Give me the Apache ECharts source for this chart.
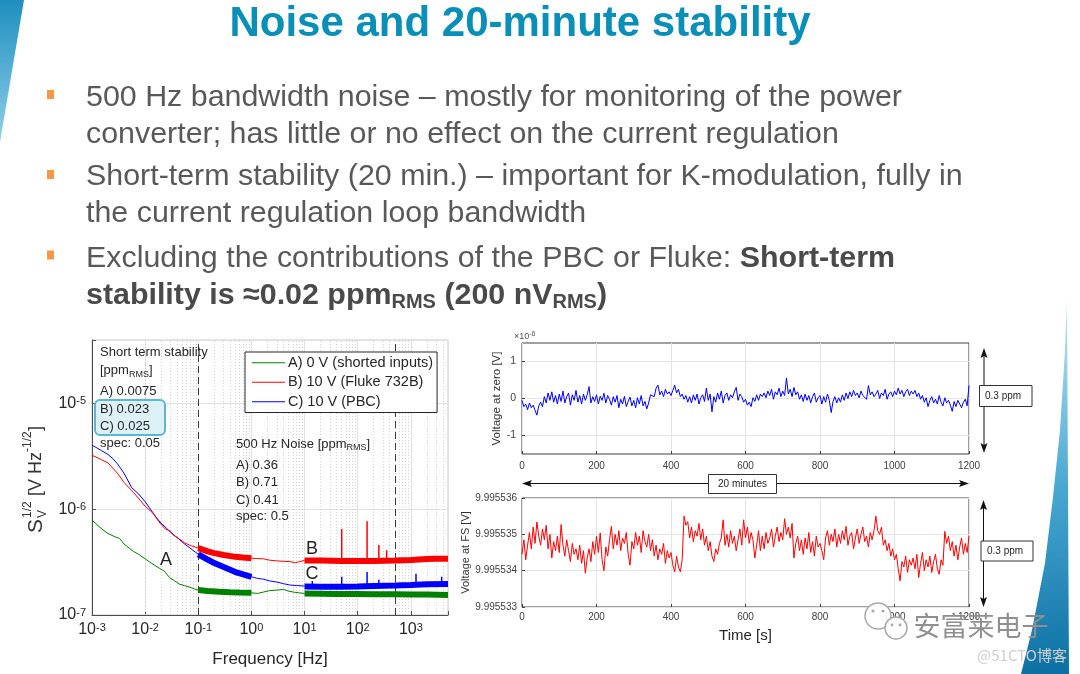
<!DOCTYPE html>
<html><head><meta charset="utf-8">
<style>html,body{margin:0;padding:0;background:#fff}#c{width:1080px;height:674px}</style>
<script src="https://cdn.jsdelivr.net/npm/echarts@6.0.0/dist/echarts.min.js"></script>
</head><body><div id="c"></div><script>
// ---------- Left chart: noise spectral density (log-log) ----------
const fA = [0.001,0.0013,0.0016,0.002,0.0027,0.0033,0.004,0.005,0.006,0.0075,0.01,0.013,0.016,0.019,0.023,0.029,0.036,0.045,0.055,0.07,0.085,0.1,0.15,0.25,0.4,0.6,1,1.3,1.7,2.2,3,4,5,6.5,8,10];
const vA = [7.9e-7,7.0e-7,6.4e-7,5.9e-7,5.5e-7,5.3e-7,4.7e-7,4.3e-7,4.0e-7,3.75e-7,3.4e-7,3.1e-7,2.9e-7,2.75e-7,2.6e-7,2.25e-7,2.1e-7,1.95e-7,1.9e-7,1.83e-7,1.76e-7,1.72e-7,1.69e-7,1.66e-7,1.64e-7,1.63e-7,1.62e-7,1.6e-7,1.65e-7,1.7e-7,1.72e-7,1.75e-7,1.68e-7,1.64e-7,1.62e-7,1.6e-7];
const fAb1 = [0.1,0.15,0.25,0.4,0.6,1];
const vAb1 = [1.72e-7,1.69e-7,1.66e-7,1.64e-7,1.63e-7,1.62e-7];
const fAb2 = [10,20,40,100,200,500,1000,2000,5000];
const vAb2 = [1.6e-7,1.59e-7,1.58e-7,1.58e-7,1.57e-7,1.57e-7,1.56e-7,1.56e-7,1.55e-7];

const fB = [0.001,0.0015,0.002,0.003,0.004,0.006,0.01,0.014,0.019,0.024,0.03,0.034,0.045,0.056,0.075,0.1,0.15,0.3,0.5,1,1.3,1.7,2.2,3,4,5.3,6.7,8,10];
const vB = [3.25e-6,2.95e-6,2.75e-6,2.2e-6,1.8e-6,1.45e-6,1.07e-6,9.2e-7,7.4e-7,6.5e-7,6.2e-7,5.7e-7,5.2e-7,4.8e-7,4.5e-7,4.3e-7,4.0e-7,3.7e-7,3.55e-7,3.45e-7,3.42e-7,3.4e-7,3.3e-7,3.25e-7,3.22e-7,3.2e-7,3.12e-7,3.2e-7,3.28e-7];
const fBb1 = [0.1,0.15,0.2,0.3,0.5,0.7,1];
const vBb1 = [4.3e-7,4.0e-7,3.85e-7,3.7e-7,3.55e-7,3.5e-7,3.45e-7];
const fBb2 = [10,20,50,100,200,500,1000,2000,3000,5000];
const vBb2 = [3.28e-7,3.27e-7,3.25e-7,3.24e-7,3.24e-7,3.27e-7,3.32e-7,3.38e-7,3.4e-7,3.4e-7];
const fBs = [50,150,250,350];
const vBsTop = [6.5e-7,7.7e-7,4.6e-7,4.1e-7];
const vBsBase = [3.25e-7,3.24e-7,3.24e-7,3.24e-7];

const fC = [0.001,0.0015,0.002,0.0025,0.003,0.004,0.0056,0.0075,0.01,0.013,0.0164,0.02,0.0254,0.032,0.042,0.055,0.07,0.1,0.15,0.2,0.3,0.5,0.7,1,1.3,1.7,2.2,3,4,5.3,7,10];
const vC = [4.05e-6,3.6e-6,3.3e-6,3.0e-6,2.7e-6,2.2e-6,1.6e-6,1.4e-6,1.18e-6,9.8e-7,8.3e-7,7.4e-7,6.6e-7,5.9e-7,5.3e-7,4.7e-7,4.3e-7,3.75e-7,3.35e-7,3.1e-7,2.85e-7,2.55e-7,2.42e-7,2.3e-7,2.22e-7,2.18e-7,2.1e-7,2.05e-7,1.98e-7,1.92e-7,1.9e-7,1.88e-7];
const fCb1 = [0.1,0.15,0.2,0.3,0.5,0.7,1];
const vCb1 = [3.75e-7,3.35e-7,3.1e-7,2.85e-7,2.55e-7,2.42e-7,2.3e-7];
const fCb2 = [10,20,50,100,200,500,1000,2000,5000];
const vCb2 = [1.86e-7,1.85e-7,1.85e-7,1.86e-7,1.88e-7,1.9e-7,1.92e-7,1.95e-7,1.97e-7];
const fCs = [14,50,150,250,1250,3800];
const vCsTop = [2.1e-7,2.3e-7,2.55e-7,2.15e-7,2.45e-7,2.3e-7];
const vCsBase = [1.85e-7,1.85e-7,1.86e-7,1.87e-7,1.92e-7,1.96e-7];

const seriesNames = ['A) 0 V (shorted inputs)','B) 10 V (Fluke 732B)','C) 10 V (PBC)'];
const markerFreqs = [0.1, 500];

// ---------- Right charts: 20-minute time series ----------
const timeStep = 5; // s between samples
const zeroTicks = [-1, 0, 1];
const zeroUV = [
-0.05,-0.22,-0.15,-0.30,-0.12,-0.25,-0.18,-0.32,-0.45,-0.20,
-0.10,-0.22,0.05,-0.12,0.15,-0.05,0.18,-0.10,0.08,-0.15,
0.12,-0.08,0.20,-0.12,0.05,0.15,-0.18,0.10,-0.05,0.22,
-0.10,0.08,-0.15,0.12,-0.05,0.10,0.32,-0.12,0.05,-0.08,
0.10,-0.15,0.06,-0.05,0.14,-0.12,0.08,-0.02,-0.18,0.05,
-0.10,0.08,-0.25,-0.02,-0.15,0.06,-0.22,-0.08,0.04,-0.20,
-0.05,-0.25,0.02,-0.15,0.08,-0.20,-0.08,-0.28,-0.12,0.10,
0.15,0.05,0.28,0.36,0.10,0.20,0.05,0.25,0.12,0.18,
0.08,0.22,0.36,0.15,0.25,0.05,0.12,-0.02,0.08,-0.10,
0.05,-0.12,0.10,-0.05,0.12,-0.15,0.02,0.10,-0.08,0.28,
-0.05,0.12,-0.36,0.05,-0.10,0.15,-0.02,0.20,-0.12,0.08,
0.15,-0.05,0.10,0.02,0.18,0.30,-0.05,0.12,0.05,-0.10,
-0.02,-0.18,-0.10,-0.22,0.02,-0.08,0.10,-0.05,0.12,0.05,
0.15,0.02,0.20,0.08,0.25,-0.02,0.18,0.10,0.28,0.05,
0.20,0.08,0.55,0.12,0.25,0.05,0.30,0.10,0.18,-0.02,
0.10,-0.08,0.12,-0.05,0.08,-0.12,0.05,0.15,-0.10,0.02,
0.08,-0.15,0.05,-0.10,0.12,-0.05,-0.38,-0.08,0.05,-0.12,
0.02,-0.10,0.10,-0.05,0.15,0.00,0.18,0.05,0.22,0.08,
0.15,0.02,0.20,0.08,0.12,-0.02,0.35,0.10,0.18,0.05,
0.12,0.22,0.00,0.15,0.08,0.25,-0.02,0.12,0.18,0.05,
0.20,0.10,0.28,0.12,0.22,0.05,0.18,0.25,0.08,0.20,
0.12,0.22,0.05,0.15,-0.02,0.08,-0.10,0.02,-0.22,-0.05,
0.05,-0.12,-0.02,-0.15,0.08,-0.10,-0.20,0.02,-0.12,-0.05,
-0.18,-0.35,-0.08,-0.22,-0.05,-0.15,-0.25,-0.10,-0.02,-0.20,
0.35];
const fsTicks = [9.995533, 9.995534, 9.995535, 9.995536];
const fsV = [
9.99553445,9.99553485,9.9955343,9.9955347,9.99553505,9.9955346,9.9955352,9.99553475,9.99553534,9.99553495,
9.9955347,9.99553515,9.99553485,9.99553525,9.9955346,9.995535,9.99553435,9.9955348,9.99553455,9.99553495,
9.9955345,9.99553527,9.9955347,9.9955344,9.99553485,9.99553455,9.99553425,9.99553475,9.99553445,9.9955346,
9.9955343,9.9955347,9.9955342,9.99553455,9.99553393,9.99553435,9.9955346,9.99553425,9.9955348,9.99553445,
9.99553495,9.9955345,9.99553504,9.9955343,9.995534,9.99553465,9.9955344,9.99553485,9.99553522,9.9955346,
9.995535,9.9955347,9.9955351,9.99553455,9.9955349,9.99553475,9.99553505,9.99553445,9.99553415,9.9955348,
9.9955346,9.99553505,9.9955347,9.99553495,9.9955345,9.9955351,9.9955348,9.99553465,9.995535,9.99553455,
9.99553485,9.9955344,9.9955347,9.9955343,9.9955346,9.99553445,9.99553475,9.9955342,9.99553455,9.99553435,
9.9955345,9.99553415,9.99553397,9.9955344,9.9955341,9.99553397,9.9955343,9.9955355,9.99553525,9.99553535,
9.9955349,9.9955352,9.9955348,9.9955351,9.99553495,9.9955353,9.99553485,9.99553515,9.9955347,9.99553495,
9.99553455,9.9955348,9.9955344,9.99553425,9.9955346,9.99553445,9.99553475,9.9955349,9.9955354,9.9955347,
9.995535,9.99553465,9.9955351,9.99553475,9.99553495,9.99553455,9.99553485,9.99553515,9.9955347,9.9955354,
9.9955349,9.9955352,9.99553475,9.99553505,9.99553485,9.99553435,9.9955347,9.9955351,9.99553455,9.99553495,
9.9955346,9.99553505,9.99553475,9.9955349,9.99553515,9.99553465,9.99553495,9.9955352,9.9955348,9.99553505,
9.99553485,9.99553543,9.995535,9.9955352,9.9955349,9.9955353,9.99553435,9.99553475,9.99553495,9.99553455,
9.99553485,9.99553445,9.9955349,9.9955346,9.99553505,9.9955345,9.9955348,9.9955344,9.99553495,9.99553465,
9.99553475,9.99553455,9.9955343,9.9955349,9.9955351,9.9955347,9.995535,9.9955348,9.99553515,9.99553465,
9.995535,9.99553475,9.9955351,9.99553485,9.99553522,9.9955347,9.99553495,9.99553505,9.9955346,9.9955349,
9.99553515,9.99553475,9.995535,9.9955352,9.9955348,9.99553495,9.99553465,9.99553505,9.99553485,9.9955351,
9.9955355,9.9955351,9.995535,9.9955352,9.9955347,9.99553485,9.99553455,9.99553475,9.9955344,9.9955346,
9.9955343,9.99553445,9.99553405,9.99553372,9.99553425,9.9955341,9.9955344,9.99553395,9.9955343,9.99553415,
9.99553435,9.99553405,9.99553445,9.99553381,9.9955342,9.9955345,9.995534,9.9955343,9.9955341,9.9955344,
9.99553395,9.99553425,9.99553445,9.99553405,9.9955339,9.9955343,9.99553415,9.99553508,9.99553475,9.99553495,
9.99553455,9.9955348,9.9955344,9.9955347,9.9955343,9.99553465,9.9955349,9.99553445,9.99553475,9.9955345,
9.99553495];

// ---------- helpers ----------
const FF = '"Liberation Sans", Arial, Helvetica, sans-serif';
const pts = (f, v) => f.map((x, i) => [x, v[i]]);
const spikes = (f, b, t) => { const out = []; f.forEach((x, i) => { out.push([x, b[i]], [x, t[i]], [x, '-']); }); return out; };
const timeA = zeroUV.map((_, i) => i * timeStep);
const timeB = fsV.map((_, i) => i * timeStep);

function decade(v) {
  const e = Math.log10(v), r = Math.round(e);
  if (Math.abs(e - r) > 1e-6) return '';
  return '{b|10}{s|' + r + '}';
}
const LR = {
  b: {fontSize: 16, fontFamily: FF, color: '#262626', lineHeight: 16, verticalAlign: 'bottom'},
  s: {fontSize: 11, fontFamily: FF, color: '#262626', lineHeight: 11, verticalAlign: 'top', padding: [0, 0, 10, 0]}
};

function T(x, y, text, s, z) {
  return {type: 'text', x: x, y: y, z: z || 100, silent: true,
    style: Object.assign({text: text, fill: '#262626', fontSize: 13, fontFamily: FF, align: 'left', verticalAlign: 'middle'}, s || {})};
}
const subRich = {s: {fontSize: 9, lineHeight: 9, verticalAlign: 'bottom', fill: '#262626', fontFamily: FF}};

function vArrow(x, y1, y2) {
  return [
    {type: 'line', z: 100, silent: true, shape: {x1: x, y1: y1 + 6, x2: x, y2: y2 - 6}, style: {stroke: '#111', lineWidth: 1}},
    {type: 'polygon', z: 100, silent: true, shape: {points: [[x, y1], [x - 3.5, y1 + 10], [x, y1 + 8], [x + 3.5, y1 + 10]]}, style: {fill: '#111'}},
    {type: 'polygon', z: 100, silent: true, shape: {points: [[x, y2], [x - 3.5, y2 - 10], [x, y2 - 8], [x + 3.5, y2 - 10]]}, style: {fill: '#111'}}
  ];
}
function hArrow(y, x1, x2) {
  return [
    {type: 'line', z: 100, silent: true, shape: {x1: x1 + 6, y1: y, x2: x2 - 6, y2: y}, style: {stroke: '#111', lineWidth: 1}},
    {type: 'polygon', z: 100, silent: true, shape: {points: [[x1, y], [x1 + 10, y - 3.5], [x1 + 8, y], [x1 + 10, y + 3.5]]}, style: {fill: '#111'}},
    {type: 'polygon', z: 100, silent: true, shape: {points: [[x2, y], [x2 - 10, y - 3.5], [x2 - 8, y], [x2 - 10, y + 3.5]]}, style: {fill: '#111'}}
  ];
}
function box(x, y, w, h) {
  return {type: 'rect', z: 101, silent: true, shape: {x: x, y: y, width: w, height: h}, style: {fill: '#fff', stroke: '#333', lineWidth: 1}};
}

// minor grid values for the log plot (grid decoration only)
const minorX = [], minorY = [];
for (let e = -3; e <= 3; e++) for (let k = 2; k <= 9; k++) { const v = k * Math.pow(10, e); if (v < 5000) minorX.push(v); }
for (let e = -7; e <= -5; e++) for (let k = 2; k <= 9; k++) { const v = k * Math.pow(10, e); if (v < 4e-5) minorY.push(v); }

const chart = echarts.init(document.getElementById('c'), null, {renderer: 'canvas'});

const bulletStyle = {fontSize: 30.4, fontFamily: FF, fill: '#595959'};
const boldRich = {
  b: {fontSize: 30.4, fontFamily: FF, fontWeight: 'bold', fill: '#4a4a4a', lineHeight: 34},
  bs: {fontSize: 20, fontFamily: FF, fontWeight: 'bold', fill: '#4a4a4a', lineHeight: 20, verticalAlign: 'bottom'}
};

const graphics = [
  // slide decorations
  {type: 'polygon', z: 0, silent: true,
   shape: {points: [[1067,300],[1069,674],[1021,674],[1032,630],[1045,563],[1053,497],[1060,430],[1065,350]]},
   style: {fill: new echarts.graphic.LinearGradient(0, 0, 1, 1, [{offset: 0, color: '#c4e6f3'}, {offset: 0.5, color: '#4aa9d3'}, {offset: 1, color: '#0b6fa3'}])}},
  {type: 'polygon', z: 0, silent: true,
   shape: {points: [[0,0],[24,0],[0,142]]},
   style: {fill: new echarts.graphic.LinearGradient(0, 0, 0, 1, [{offset: 0, color: '#1f8fc0'}, {offset: 1, color: '#8fd0e8'}])}},
  // title
  T(520, 24, 'Noise and 20-minute stability', {fontSize: 42, fontWeight: 'bold', fill: '#0a8fb9', align: 'center'}),
  // bullets
  {type: 'rect', z: 100, silent: true, shape: {x: 47, y: 90, width: 7, height: 9}, style: {fill: '#f79646'}},
  {type: 'rect', z: 100, silent: true, shape: {x: 47, y: 170, width: 7, height: 9}, style: {fill: '#f79646'}},
  {type: 'rect', z: 100, silent: true, shape: {x: 47, y: 250.5, width: 7, height: 9}, style: {fill: '#f79646'}},
  T(86, 98, '500 Hz bandwidth noise \u2013 mostly for monitoring of the power', bulletStyle),
  T(86, 134.5, 'converter; has little or no effect on the current regulation', bulletStyle),
  T(86, 177, 'Short-term stability (20 min.) \u2013 important for K-modulation, fully in', bulletStyle),
  T(86, 213.5, 'the current regulation loop bandwidth', bulletStyle),
  T(86, 258.5, 'Excluding the contributions of the PBC or Fluke: {b|Short-term}', Object.assign({}, bulletStyle, {rich: {b: {fontSize: 30.4, fontFamily: FF, fontWeight: 'bold', fill: '#4a4a4a'}}})),
  T(86, 295.5, '{b|stability is \u22480.02 ppm}{bs|RMS}{b| (200 nV}{bs|RMS}{b|)}', Object.assign({}, bulletStyle, {lineHeight: 34, rich: boldRich})),

  // left chart annotations
  {type: 'rect', z: 50, silent: true, shape: {x: 95, y: 400, width: 70, height: 35, r: 5}, style: {fill: '#dcf0f6', stroke: '#5bb7d3', lineWidth: 2}},
  T(100, 352.7, 'Short term stability'),
  T(100, 370.7, '[ppm{s|RMS}]', {lineHeight: 17, rich: subRich}),
  T(100, 391.7, 'A) 0.0075'),
  T(100, 409.3, 'B) 0.023'),
  T(100, 426.7, 'C) 0.025'),
  T(100, 443.3, 'spec: 0.05'),
  T(236, 444, '500 Hz Noise [ppm{s|RMS}]', {lineHeight: 17, rich: subRich}),
  T(236, 465.7, 'A) 0.36'),
  T(236, 482.7, 'B) 0.71'),
  T(236, 500, 'C) 0.41'),
  T(236, 516.7, 'spec: 0.5'),
  T(166, 560, 'A', {fontSize: 18, align: 'center'}),
  T(312, 549, 'B', {fontSize: 18, align: 'center'}),
  T(312, 574, 'C', {fontSize: 18, align: 'center'}),
  // left y-axis name  S_V^{1/2} [V Hz^{-1/2}]
  {type: 'group', x: 36, y: 480, rotation: Math.PI / 2, z: 100, silent: true, children: [
    {type: 'text', z: 100, x: -53, y: 0, style: {text: 'S', fontSize: 21, fontFamily: FF, fill: '#333', align: 'left', verticalAlign: 'middle'}},
    {type: 'text', z: 100, x: -38, y: -8, style: {text: '1/2', fontSize: 12, fontFamily: FF, fill: '#333', align: 'left', verticalAlign: 'middle'}},
    {type: 'text', z: 100, x: -38, y: 7, style: {text: 'V', fontSize: 12, fontFamily: FF, fill: '#333', align: 'left', verticalAlign: 'middle'}},
    {type: 'text', z: 100, x: -21, y: 0, style: {text: ' [V Hz', fontSize: 18, fontFamily: FF, fill: '#333', align: 'left', verticalAlign: 'middle'}},
    {type: 'text', z: 100, x: 28, y: -8, style: {text: '-1/2', fontSize: 12, fontFamily: FF, fill: '#333', align: 'left', verticalAlign: 'middle'}},
    {type: 'text', z: 100, x: 49, y: 0, style: {text: ']', fontSize: 18, fontFamily: FF, fill: '#333', align: 'left', verticalAlign: 'middle'}}
  ]},

  // right charts annotations
  T(514, 337, '\u00d710{p|-6}', {fontSize: 9, fill: '#555', lineHeight: 12, rich: {p: {fontSize: 7, lineHeight: 7, verticalAlign: 'top', fill: '#555', fontFamily: FF}}}),
  ...vArrow(984, 348, 453),
  box(979.5, 385.5, 52.5, 21),
  T(985, 396, '0.3 ppm', {fontSize: 10, fill: '#262626'}, 102),
  ...vArrow(983.5, 500, 607),
  box(981, 541, 52, 20),
  T(987, 551, '0.3 ppm', {fontSize: 10, fill: '#262626'}, 102),
  ...hArrow(483.5, 522, 969),
  box(708.5, 474.5, 68, 19),
  T(742.5, 484, '20 minutes', {fontSize: 10, fill: '#262626', align: 'center'}, 102),

  // watermark
  {type: 'circle', z: 110, silent: true, shape: {cx: 878, cy: 616, r: 13}, style: {fill: 'rgba(255,255,255,0.92)', stroke: '#aaa', lineWidth: 1.5}},
  {type: 'circle', z: 111, silent: true, shape: {cx: 896, cy: 628, r: 11}, style: {fill: 'rgba(255,255,255,0.92)', stroke: '#aaa', lineWidth: 1.5}},
  {type: 'circle', z: 112, silent: true, shape: {cx: 873, cy: 611, r: 1.6}, style: {fill: '#aaa'}},
  {type: 'circle', z: 112, silent: true, shape: {cx: 883, cy: 611, r: 1.6}, style: {fill: '#aaa'}},
  {type: 'circle', z: 112, silent: true, shape: {cx: 892, cy: 625, r: 1.4}, style: {fill: '#aaa'}},
  {type: 'circle', z: 112, silent: true, shape: {cx: 900, cy: 625, r: 1.4}, style: {fill: '#aaa'}},
  T(981, 626, '安富莱电子', {fontSize: 27, fontFamily: '"Noto Sans CJK SC", sans-serif', fill: '#8f8f8f', align: 'center'}, 112),
  T(1022, 655, '@51CTO博客', {fontSize: 15, fontFamily: '"Noto Sans CJK SC", sans-serif', fill: '#cfcfcf', align: 'center'}, 112)
];

const lineS = (name, data, color, width, z) => ({
  name: name, type: 'line', xAxisIndex: 0, yAxisIndex: 0, data: data, symbol: 'none', showSymbol: false,
  connectNulls: false, silent: true, z: z || 3,
  lineStyle: {color: color, width: width}, itemStyle: {color: color}
});

const option = {
  animation: false,
  backgroundColor: '#fff',
  textStyle: {fontFamily: FF},
  graphic: {elements: graphics},
  legend: {
    data: seriesNames, left: 245, top: 352, orient: 'vertical', selectedMode: false,
    backgroundColor: '#fff', borderColor: '#262626', borderWidth: 1, borderRadius: 0,
    padding: [3, 4, 3, 7], itemGap: 4, itemWidth: 33, itemHeight: 1.2, icon: 'rect',
    textStyle: {fontSize: 14.5, fontFamily: FF, color: '#262626', lineHeight: 15.5, padding: [0, 0, 0, -2]}
  },
  grid: [
    {left: 92, top: 340, width: 356, height: 275, show: true, borderColor: '#c8c8c8', borderWidth: 1, backgroundColor: '#fff'},
    {left: 522, top: 343, width: 447, height: 111, show: true, borderColor: '#404040', borderWidth: 1, backgroundColor: '#fff'},
    {left: 522, top: 498, width: 447, height: 109, show: true, borderColor: '#404040', borderWidth: 1, backgroundColor: '#fff'}
  ],
  xAxis: [
    {gridIndex: 0, type: 'log', logBase: 10, min: 0.001, max: 5000,
     axisLine: {show: true, onZero: false, lineStyle: {color: '#4d4d4d'}},
     axisTick: {show: true, inside: true, length: 4, lineStyle: {color: '#4d4d4d'}},
     splitLine: {show: true, lineStyle: {color: '#e2e2e2'}},
     axisLabel: {formatter: decade, margin: 7, rich: LR},
     name: 'Frequency [Hz]', nameLocation: 'middle', nameGap: 36,
     nameTextStyle: {fontSize: 17, color: '#262626', fontFamily: FF}},
    {gridIndex: 1, type: 'value', min: 0, max: 1200, interval: 200,
     axisLine: {show: false, onZero: false},
     axisTick: {show: true, inside: true, length: 3, lineStyle: {color: '#404040'}},
     splitLine: {show: true, lineStyle: {color: '#e4e4e4'}},
     axisLabel: {fontSize: 10, color: '#404040', margin: 7, fontFamily: FF, formatter: v => String(v)}},
    {gridIndex: 2, type: 'value', min: 0, max: 1200, interval: 200,
     axisLine: {show: false, onZero: false},
     axisTick: {show: true, inside: true, length: 3, lineStyle: {color: '#404040'}},
     splitLine: {show: true, lineStyle: {color: '#e4e4e4'}},
     axisLabel: {fontSize: 10, color: '#404040', margin: 5, fontFamily: FF, formatter: v => String(v)},
     name: 'Time [s]', nameLocation: 'middle', nameGap: 21,
     nameTextStyle: {fontSize: 15, color: '#262626', fontFamily: FF}}
  ],
  yAxis: [
    {gridIndex: 0, type: 'log', logBase: 10, min: 1e-7, max: 4e-5,
     axisLine: {show: true, onZero: false, lineStyle: {color: '#4d4d4d'}},
     axisTick: {show: true, inside: true, length: 4, lineStyle: {color: '#4d4d4d'}},
     splitLine: {show: true, lineStyle: {color: '#e2e2e2'}},
     axisLabel: {formatter: decade, margin: 6, rich: LR}},
    {gridIndex: 1, type: 'value', min: -1.5, max: 1.5,
     axisLine: {show: false, onZero: false},
     axisTick: {show: true, inside: true, length: 3, customValues: zeroTicks, lineStyle: {color: '#404040'}},
     splitLine: {show: true, lineStyle: {color: '#e4e4e4'}},
     axisLabel: {customValues: zeroTicks, fontSize: 10.5, color: '#404040', margin: 6, fontFamily: FF},
     name: 'Voltage at zero [V]', nameLocation: 'middle', nameGap: 18, nameRotate: 90,
     nameTextStyle: {fontSize: 11.5, color: '#333', fontFamily: FF}},
    {gridIndex: 2, type: 'value', min: 9.995533, max: 9.995536,
     axisLine: {show: false, onZero: false},
     axisTick: {show: true, inside: true, length: 3, customValues: fsTicks, lineStyle: {color: '#404040'}},
     splitLine: {show: true, lineStyle: {color: '#e4e4e4'}},
     axisLabel: {customValues: fsTicks, formatter: v => v.toFixed(6), fontSize: 10, color: '#404040', margin: 5, fontFamily: FF},
     name: 'Voltage at FS [V]', nameLocation: 'middle', nameGap: 50, nameRotate: 90,
     nameTextStyle: {fontSize: 11, color: '#333', fontFamily: FF}}
  ],
  series: [
    // grid decoration (minor dotted grid + dashed markers), kept below the curves
    {type: 'line', xAxisIndex: 0, yAxisIndex: 0, data: [[1, 1e-6]], symbol: 'none', silent: true, z: 1,
     lineStyle: {opacity: 0},
     markLine: {silent: true, z: 1, symbol: ['none', 'none'], label: {show: false}, animation: false,
       lineStyle: {color: '#d2d2d2', type: [1, 2], width: 1},
       data: minorX.map(v => ({xAxis: v})).concat(minorY.map(v => ({yAxis: v})))
         .concat(markerFreqs.map(v => ({xAxis: v, lineStyle: {color: '#3a3a3a', type: [7, 4], width: 1}})))}},
    lineS(seriesNames[2], pts(fC, vC), '#0000ff', 1, 3),
    lineS('C band 1', pts(fCb1, vCb1), '#0000ff', 6, 3),
    lineS('C band 2', pts(fCb2, vCb2), '#0000ff', 6, 3),
    lineS('C spikes', spikes(fCs, vCsBase, vCsTop), '#0000ff', 1.5, 3),
    lineS(seriesNames[0], pts(fA, vA), '#008000', 1, 4),
    lineS('A band 1', pts(fAb1, vAb1), '#008000', 6, 4),
    lineS('A band 2', pts(fAb2, vAb2), '#008000', 6, 4),
    lineS(seriesNames[1], pts(fB, vB), '#ff0000', 1, 5),
    lineS('B band 1', pts(fBb1, vBb1), '#ff0000', 6, 5),
    lineS('B band 2', pts(fBb2, vBb2), '#ff0000', 6, 5),
    lineS('B spikes', spikes(fBs, vBsBase, vBsTop), '#ff0000', 1.5, 5),
    {type: 'line', xAxisIndex: 1, yAxisIndex: 1, data: timeA.map((t, i) => [t, zeroUV[i]]), symbol: 'none', silent: true,
     lineStyle: {color: '#0000ff', width: 1}},
    {type: 'line', xAxisIndex: 2, yAxisIndex: 2, data: timeB.map((t, i) => [t, fsV[i]]), symbol: 'none', silent: true,
     lineStyle: {color: '#ff0000', width: 1}}
  ]
};
chart.setOption(option);
</script></body></html>
